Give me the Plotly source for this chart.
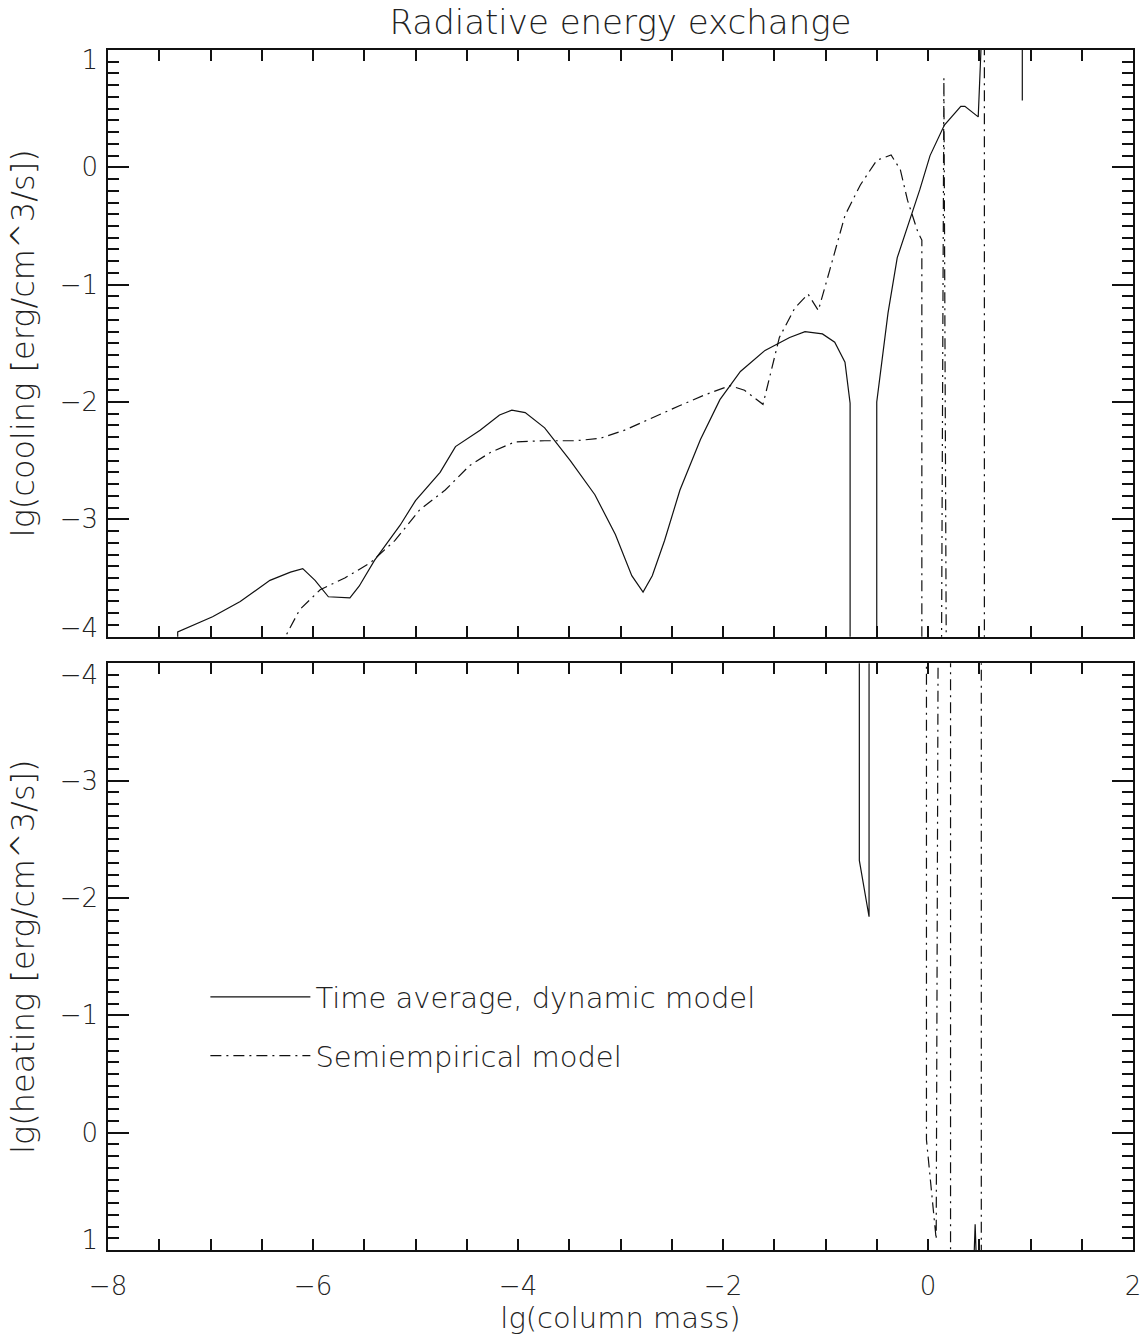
import plotly.graph_objects as go

# ---------------- data ----------------
# lg(column mass) / lg(cooling) : time average, dynamic model (upper panel)
dyn_cool_x = [-7.32, -7.32, -6.98, -6.71, -6.42, -6.22, -6.10, -5.98, -5.85, -5.64,
              -5.55, -5.40, -5.15, -5.00, -4.76, -4.61, -4.37, -4.18, -4.06, -3.93,
              -3.74, -3.49, -3.25, -3.05, -2.89, -2.78, -2.69, -2.57, -2.42, -2.22,
              -2.03, -1.83, -1.59, -1.35, -1.20, -1.03, -0.91, -0.81, -0.76, -0.76,
              -0.50, -0.50, -0.39, -0.30, -0.08, 0.02, 0.16, 0.32, 0.36, 0.49,
              0.54, 0.92, 0.92]
dyn_cool_y = [-4.30, -3.96, -3.83, -3.70, -3.52, -3.45, -3.42, -3.52, -3.66, -3.67,
              -3.57, -3.35, -3.05, -2.84, -2.60, -2.38, -2.24, -2.11, -2.07, -2.09,
              -2.22, -2.50, -2.79, -3.13, -3.48, -3.62, -3.48, -3.18, -2.75, -2.32,
              -1.98, -1.74, -1.56, -1.45, -1.40, -1.42, -1.49, -1.66, -2.01, -4.50,
              -4.50, -2.00, -1.24, -0.77, -0.19, 0.10, 0.36, 0.52, 0.52, 0.43,
              1.50, 1.50, 0.57]

# lg(column mass) / lg(heating) : time average, dynamic model (lower panel)
dyn_heat_x = [-0.67, -0.67, -0.575, -0.575, None, 0.44, 0.46, 0.48]
dyn_heat_y = [-4.50, -2.32, -1.84, -4.50, None, 1.30, 0.78, 1.30]

# semiempirical model, cooling (upper panel)
sem_cool_x = [-6.33, -6.13, -5.93, -5.69, -5.44, -5.20, -4.96, -4.71, -4.47, -4.27,
              -4.03, -3.74, -3.44, -3.20, -2.96, -2.71, -2.42, -2.18, -1.93, -1.79,
              -1.61, -1.45, -1.30, -1.17, -1.07, -0.96, -0.81, -0.66, -0.50, -0.36,
              -0.27, -0.20, -0.10, -0.06, -0.06, 0.13, 0.155, 0.18, 0.55, 0.55]
sem_cool_y = [-4.10, -3.77, -3.60, -3.50, -3.37, -3.18, -2.92, -2.75, -2.54, -2.43,
              -2.34, -2.33, -2.33, -2.31, -2.24, -2.14, -2.03, -1.94, -1.86, -1.90,
              -2.02, -1.45, -1.20, -1.08, -1.22, -0.88, -0.41, -0.15, 0.06, 0.105,
              -0.02, -0.28, -0.55, -0.62, -4.50, -4.50, 0.76, -4.50, -4.50, 1.50]

# semiempirical model, heating (lower panel)
sem_heat_x = [-0.015, -0.015, 0.08, 0.10, 0.22, 0.22, 0.52, 0.52]
sem_heat_y = [-4.50, 0.06, 0.91, -4.50, -4.50, 1.50, 1.50, -4.50]

x_range = [-8, 2]
cool_range = [-4, 1]
heat_range = [1, -4]

# y tick labels (end labels nudged inward, as in the original IDL plot)
cool_label_pos = [0.915, 0, -1, -2, -3, -3.925]
cool_label_txt = ["1", "0", "\u22121", "\u22122", "\u22123", "\u22124"]
heat_label_pos = [-3.90, -3, -2, -1, 0, 0.915]
heat_label_txt = ["\u22124", "\u22123", "\u22122", "\u22121", "0", "1"]

title_text = "Radiative energy exchange"
x_title = "lg(column mass)"
cool_title = "lg(cooling [erg/cm^3/s])"
heat_title = "lg(heating [erg/cm^3/s])"
name_dyn = "Time average, dynamic model"
name_sem = "Semiempirical model"

# ---------------- figure ----------------
FONT = "DejaVu Sans"
INK = "#111111"
TXT = "#222222"
DASHDOT = "11px,5px,2px,5px"

fig = go.Figure()

fig.add_trace(go.Scatter(x=dyn_cool_x, y=dyn_cool_y, mode="lines", name=name_dyn,
                         line=dict(color=INK, width=1.2), xaxis="x", yaxis="y",
                         legendgroup="dyn", showlegend=True))
fig.add_trace(go.Scatter(x=sem_cool_x, y=sem_cool_y, mode="lines", name=name_sem,
                         line=dict(color=INK, width=1.2, dash=DASHDOT), xaxis="x", yaxis="y",
                         legendgroup="sem", showlegend=True))
fig.add_trace(go.Scatter(x=dyn_heat_x, y=dyn_heat_y, mode="lines", name=name_dyn,
                         line=dict(color=INK, width=1.2), xaxis="x2", yaxis="y2",
                         legendgroup="dyn", showlegend=False, connectgaps=False))
fig.add_trace(go.Scatter(x=sem_heat_x, y=sem_heat_y, mode="lines", name=name_sem,
                         line=dict(color=INK, width=1.2, dash=DASHDOT), xaxis="x2", yaxis="y2",
                         legendgroup="sem", showlegend=False))
# empty traces that register the label-carrying overlay axes
fig.add_trace(go.Scatter(x=[None], y=[None], mode="lines", xaxis="x", yaxis="y3",
                         showlegend=False, hoverinfo="skip"))
fig.add_trace(go.Scatter(x=[None], y=[None], mode="lines", xaxis="x2", yaxis="y4",
                         showlegend=False, hoverinfo="skip"))

tickfont = dict(family=FONT, size=26, color=TXT, weight=200)
axis_common = dict(showline=True, linecolor=INK, linewidth=1.8, mirror="allticks",
                   showgrid=False, zeroline=False, ticks="inside", tickcolor=INK,
                   automargin=False, tickfont=tickfont)

xaxis_style = dict(axis_common, range=x_range, tick0=-8, dtick=2, ticklen=11, tickwidth=1.5,
                   minor=dict(ticks="inside", dtick=0.5, ticklen=6, tickwidth=1.5, tickcolor=INK,
                              showgrid=False))
yaxis_style = dict(axis_common, tick0=0, dtick=1, ticklen=21, tickwidth=1.5,
                   showticklabels=False,
                   minor=dict(ticks="inside", dtick=0.1, ticklen=11, tickwidth=1.5, tickcolor=INK,
                              showgrid=False))
label_axis_style = dict(showline=False, showgrid=False, zeroline=False, ticks="",
                        tickmode="array", automargin=False, tickfont=tickfont,
                        ticklabelstandoff=9, side="left", anchor="x")
ytitle_font = dict(family=FONT, size=32, color=TXT, weight=200)

fig.update_layout(
    width=1144, height=1338,
    margin=dict(l=108, r=11, t=50, b=88, pad=0),
    paper_bgcolor="white", plot_bgcolor="white",
    title=dict(text=title_text, x=0.5, xref="paper", xanchor="center",
               y=1 - 22 / 1338, yanchor="middle",
               font=dict(family=FONT, size=34, color=TXT, weight=200)),
    xaxis=dict(xaxis_style, domain=[0, 1], anchor="y", showticklabels=False, matches="x2"),
    yaxis=dict(yaxis_style, domain=[0.5111, 1.0], anchor="x", range=cool_range),
    xaxis2=dict(xaxis_style, domain=[0, 1], anchor="y2", ticklabelstandoff=12,
                title=dict(text=x_title, standoff=4,
                           font=dict(family=FONT, size=29, color=TXT, weight=200))),
    yaxis2=dict(yaxis_style, domain=[0.0, 0.4889], anchor="x2", range=heat_range),
    yaxis3=dict(label_axis_style, overlaying="y", range=cool_range,
                tickvals=cool_label_pos, ticktext=cool_label_txt,
                title=dict(text=cool_title, standoff=15, font=ytitle_font)),
    yaxis4=dict(label_axis_style, overlaying="y2", anchor="x2", range=heat_range,
                tickvals=heat_label_pos, ticktext=heat_label_txt,
                title=dict(text=heat_title, standoff=15, font=ytitle_font)),
    legend=dict(x=0.095, y=0.232, xanchor="left", yanchor="top", xref="paper", yref="paper",
                bgcolor="rgba(0,0,0,0)", borderwidth=0, itemwidth=100, tracegroupgap=18,
                font=dict(family=FONT, size=29, color=TXT, weight=200)),
    showlegend=True,
)

fig.write_html("out.html")
